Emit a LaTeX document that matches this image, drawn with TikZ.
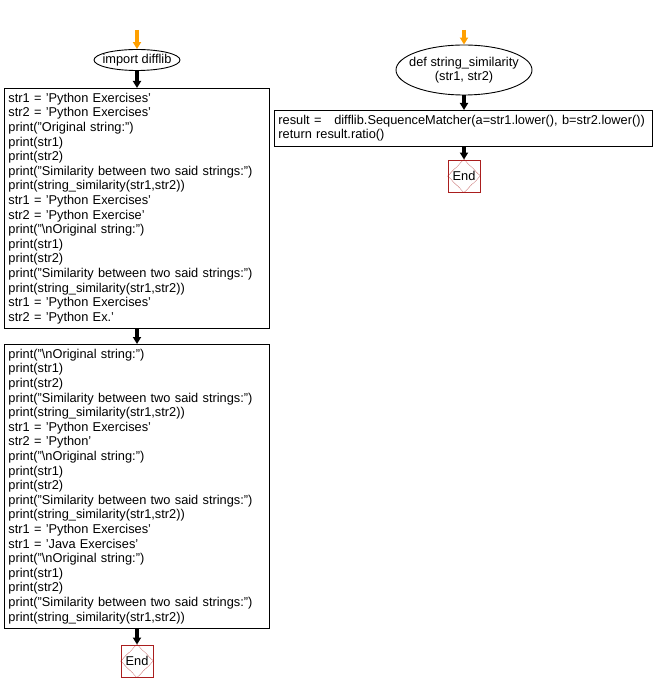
\documentclass[tikz,border=0pt]{standalone}
\usepackage{fontspec}
\setmainfont{Liberation Sans}
\usetikzlibrary{shapes.geometric,arrows.meta}
\definecolor{endred}{RGB}{170,30,30}
\definecolor{startorange}{RGB}{255,160,0}
\tikzset{
  x=1pt,y=-1pt,
  every node/.style={font=\fontsize{12.8}{14.6}\selectfont},
  codebox/.style={draw,rectangle,line width=0.9pt,align=left,anchor=north west,inner xsep=4pt,inner ysep=4.5pt},
  ovalbox/.style={draw,ellipse,line width=0.9pt,align=center},
  endbox/.style={draw=endred,rectangle,line width=0.9pt,minimum width=32,minimum height=32,inner sep=0pt},
  flow/.style={-{Triangle[width=8pt,length=7pt]},line width=3.6pt,black},
  startflow/.style={-{Triangle[width=8pt,length=7pt]},line width=3.6pt,startorange},
}
\newcommand{\stopdiamond}[1]{\draw[endred,densely dotted,line width=0.6pt] (#1.north)--(#1.east)--(#1.south)--(#1.west)--cycle;}
\begin{document}
\begin{tikzpicture}
\useasboundingbox (0,0) rectangle (655,692);
% left column
\coordinate (s1) at (137,30);
\node[ovalbox,inner xsep=-5pt,inner ysep=-3pt,minimum width=86,minimum height=21] (imp) at (137,60) {import difflib};
\node[codebox,text width=257] (b1) at (4,88) {str1 = 'Python Exercises'\\
str2 = 'Python Exercises'\\
print("Original string:")\\
print(str1)\\
print(str2)\\
print("Similarity between two said strings:")\\
print(string\_similarity(str1,str2))\\
str1 = 'Python Exercises'\\
str2 = 'Python Exercise'\\
print("\textbackslash nOriginal string:")\\
print(str1)\\
print(str2)\\
print("Similarity between two said strings:")\\
print(string\_similarity(str1,str2))\\
str1 = 'Python Exercises'\\
str2 = 'Python Ex.'};
\node[codebox,text width=257] (b2) at (4,344) {print("\textbackslash nOriginal string:")\\
print(str1)\\
print(str2)\\
print("Similarity between two said strings:")\\
print(string\_similarity(str1,str2))\\
str1 = 'Python Exercises'\\
str2 = 'Python'\\
print("\textbackslash nOriginal string:")\\
print(str1)\\
print(str2)\\
print("Similarity between two said strings:")\\
print(string\_similarity(str1,str2))\\
str1 = 'Python Exercises'\\
str1 = 'Java Exercises'\\
print("\textbackslash nOriginal string:")\\
print(str1)\\
print(str2)\\
print("Similarity between two said strings:")\\
print(string\_similarity(str1,str2))};
\node[endbox] (e1) at (137,661) {End};
\stopdiamond{e1}
\draw[startflow] (s1) -- (imp.north);
\draw[flow] (imp.south) -- (imp.south |- b1.north);
\draw[flow] (b1.south -| imp.south) -- (b2.north -| imp.south);
\draw[flow] (b2.south -| e1.north) -- (e1.north);
% right column
\coordinate (s2) at (464,30);
\node[ovalbox,inner xsep=-7pt,inner ysep=0pt,minimum width=136,minimum height=50] (def) at (464,70) {def string\_similarity\\(str1, str2)};
\node[codebox,text width=370] (b3) at (274,110) {result = \ \ difflib.SequenceMatcher(a=str1.lower(), b=str2.lower())\\
return result.ratio()};
\node[endbox] (e2) at (464,176) {End};
\stopdiamond{e2}
\draw[startflow] (s2) -- (def.north);
\draw[flow] (def.south) -- (def.south |- b3.north);
\draw[flow] (b3.south -| e2.north) -- (e2.north);
\end{tikzpicture}
\end{document}
